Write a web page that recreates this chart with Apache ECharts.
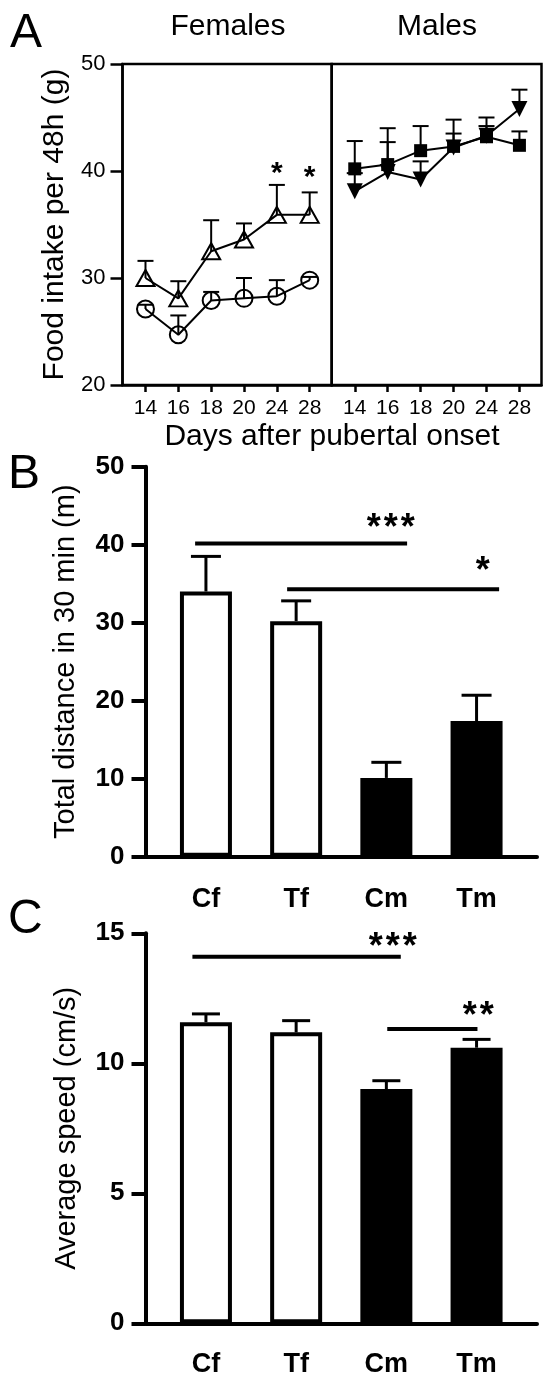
<!DOCTYPE html>
<html>
<head>
<meta charset="utf-8">
<script src="https://cdn.jsdelivr.net/npm/echarts@6/dist/echarts.min.js"></script>
<style>
html, body { margin: 0; padding: 0; background: #fff; }
#main { width: 550px; height: 1380px; }
</style>
</head>
<body>
<div id="main"></div>
<script>
// panel A: food intake per 48h (g), x index 0..5 = day after pubertal onset
var days = ['14', '16', '18', '20', '24', '28'];
var femCircle = [27.1, 24.7, 27.9, 28.1, 28.3, 29.8];
var femCircleTop = [27.5, 26.5, 28.7, 30.0, 29.8, 30.1];
var femTri = [30.0, 28.1, 32.5, 33.6, 35.9, 35.9];
var femTriTop = [31.6, 29.7, 35.4, 35.1, 38.7, 38.0];
var maleSquare = [40.2, 40.6, 41.9, 42.3, 43.2, 42.4];
var maleSquareTop = [42.8, 44.0, 44.2, 44.8, 45.0, 43.7];
var maleTri = [38.1, 39.9, 39.2, 42.2, 43.3, 45.8];
var maleTriTop = [39.8, 42.7, 40.9, 43.5, 44.2, 47.6];
var starsA = [[4, 40.45, '*'], [5, 40.1, '*']];

// panel B (total distance, m) and C (average speed, cm/s)
var groups = ['Cf', 'Tf', 'Cm', 'Tm'];
var distance = [34.0, 30.2, 10.1, 17.4];
var distanceTop = [38.5, 32.8, 12.1, 20.7];
var speed = [11.58, 11.19, 9.01, 10.6];
var speedTop = [11.9, 11.64, 9.33, 10.92];
var sigLinesB = [[-0.12, 2.23, 40.15], [0.90, 3.25, 34.3]];
var sigTextB = [[2.05, 43.2, '*\u200A*\u200A*'], [3.07, 37.6, '*']];
var sigLinesC = [[-0.15, 2.16, 14.1], [2.01, 3.01, 11.32]];
var sigTextC = [[2.07, 14.77, '*\u200A*\u200A*'], [3.02, 12.12, '*\u200A*']];

var fills = ['#fff', '#fff', '#000', '#000'];
var FONT = '"Liberation Sans", Arial, sans-serif';

function pairs(vals) {
    return vals.map(function (v, i) { return [i, v]; });
}
function errData(vals, tops) {
    return vals.map(function (v, i) { return [i, v, tops[i]]; });
}

// vertical error bar from mean up to mean+sem, with cap
function errBar(capHalf, lw) {
    return function (params, api) {
        var p0 = api.coord([api.value(0), api.value(1)]);
        var p1 = api.coord([api.value(0), api.value(2)]);
        return {
            type: 'group',
            children: [
                { type: 'line', shape: { x1: p0[0], y1: p0[1], x2: p1[0], y2: p1[1] }, style: { stroke: '#000', lineWidth: lw } },
                { type: 'line', shape: { x1: p1[0] - capHalf, y1: p1[1], x2: p1[0] + capHalf, y2: p1[1] }, style: { stroke: '#000', lineWidth: lw } }
            ]
        };
    };
}
function sigLine(params, api) {
    var a = api.coord([api.value(0), api.value(2)]);
    var b = api.coord([api.value(1), api.value(2)]);
    return { type: 'line', shape: { x1: a[0], y1: a[1], x2: b[0], y2: b[1] }, style: { stroke: '#000', lineWidth: 4 } };
}
function starText(list, size, weight) {
    return function (params, api) {
        var p = api.coord([api.value(0), api.value(1)]);
        return {
            type: 'text', x: p[0], y: p[1] + size * 0.25,
            style: { text: list[params.dataIndex][2], font: weight + ' ' + size + 'px ' + FONT, fill: '#000', align: 'center', verticalAlign: 'middle' }
        };
    };
}

function dayAxis(grid) {
    return {
        type: 'value', gridIndex: grid, min: -0.7, max: 5.67,
        axisLine: { show: true, onZero: false, lineStyle: { color: '#000', width: 2.5 } },
        axisTick: { show: true, customValues: [0, 1, 2, 3, 4, 5], length: 7, lineStyle: { color: '#000', width: 2.5 } },
        axisLabel: {
            customValues: [0, 1, 2, 3, 4, 5], margin: 13, color: '#000', fontSize: 21, fontFamily: FONT,
            formatter: function (v) { return days[Math.round(v)]; }
        },
        splitLine: { show: false }
    };
}
function groupAxis(grid, margin) {
    return {
        type: 'value', gridIndex: grid, min: -0.67, max: 3.67,
        axisLine: { show: true, onZero: false, lineStyle: { color: '#000', width: 4 } },
        axisTick: { show: false },
        axisLabel: {
            customValues: [0, 1, 2, 3], margin: margin, color: '#000', fontSize: 27, fontWeight: 'bold', fontFamily: FONT,
            formatter: function (v) { return groups[Math.round(v)]; }
        },
        splitLine: { show: false }
    };
}
function barValueAxis(grid, max, step, name, gap) {
    return {
        type: 'value', gridIndex: grid, min: 0, max: max, interval: step,
        name: name, nameLocation: 'middle', nameGap: gap,
        nameTextStyle: { color: '#000', fontSize: 29, fontFamily: FONT },
        axisLine: { show: true, onZero: false, lineStyle: { color: '#000', width: 4 } },
        axisTick: { show: true, length: 14, lineStyle: { color: '#000', width: 4 } },
        axisLabel: { margin: 21, color: '#000', fontSize: 26, fontWeight: 'bold', fontFamily: FONT },
        splitLine: { show: false }
    };
}

var chart = echarts.init(document.getElementById('main'), null, { renderer: 'canvas' });
var boxStyle = { show: true, borderColor: '#000', borderWidth: 2.5, backgroundColor: 'transparent', outerBoundsMode: 'none', containLabel: false };

var option = {
    animation: false,
    backgroundColor: '#fff',
    textStyle: { fontFamily: FONT },
    grid: [
        Object.assign({ left: 122.5, top: 64, width: 209.2, height: 321 }, boxStyle),
        Object.assign({ left: 331.7, top: 64, width: 209.8, height: 321 }, boxStyle),
        { left: 145.5, top: 466.7, width: 391.5, height: 390, outerBoundsMode: 'none', containLabel: false },
        { left: 145.5, top: 933.3, width: 391.5, height: 390, outerBoundsMode: 'none', containLabel: false }
    ],
    xAxis: [dayAxis(0), dayAxis(1), groupAxis(2, 29), groupAxis(3, 28)],
    yAxis: [
        {
            type: 'value', gridIndex: 0, min: 20, max: 50, interval: 10,
            name: 'Food intake per 48h (g)', nameLocation: 'middle', nameGap: 53,
            nameTextStyle: { color: '#000', fontSize: 30, fontFamily: FONT },
            axisLine: { show: true, onZero: false, lineStyle: { color: '#000', width: 2.5 } },
            axisTick: { show: true, length: 12, lineStyle: { color: '#000', width: 2.5 } },
            axisLabel: { margin: 17, color: '#000', fontSize: 22, fontFamily: FONT },
            splitLine: { show: false }
        },
        { type: 'value', gridIndex: 1, min: 20, max: 50, show: false, axisLine: { onZero: false }, splitLine: { show: false } },
        barValueAxis(2, 50, 10, 'Total distance in 30 min (m)', 65),
        barValueAxis(3, 15, 5, 'Average speed (cm/s)', 64)
    ],
    graphic: [
        { type: 'text', left: 10, top: 10, style: { text: 'A', font: '48px ' + FONT, fill: '#000' } },
        { type: 'text', left: 8, top: 451, style: { text: 'B', font: '48px ' + FONT, fill: '#000' } },
        { type: 'text', left: 8, top: 896, style: { text: 'C', font: '48px ' + FONT, fill: '#000' } },
        { type: 'text', x: 228, y: 27, style: { text: 'Females', font: '30px ' + FONT, fill: '#000', align: 'center', verticalAlign: 'middle' } },
        { type: 'text', x: 437, y: 27, style: { text: 'Males', font: '30px ' + FONT, fill: '#000', align: 'center', verticalAlign: 'middle' } },
        { type: 'text', x: 332, y: 437, style: { text: 'Days after pubertal onset', font: '30px ' + FONT, fill: '#000', align: 'center', verticalAlign: 'middle' } }
    ],
    series: [
        // panel A, females
        { type: 'custom', xAxisIndex: 0, yAxisIndex: 0, renderItem: errBar(8, 2), encode: { x: 0, y: [1, 2] }, data: errData(femCircle, femCircleTop), z: 2 },
        { type: 'custom', xAxisIndex: 0, yAxisIndex: 0, renderItem: errBar(8, 2), encode: { x: 0, y: [1, 2] }, data: errData(femTri, femTriTop), z: 2 },
        {
            type: 'line', xAxisIndex: 0, yAxisIndex: 0, data: pairs(femCircle), symbol: 'circle', symbolSize: 17,
            itemStyle: { color: 'rgba(0,0,0,0)', borderColor: '#000', borderWidth: 2 }, lineStyle: { color: '#000', width: 2 }, z: 3
        },
        {
            type: 'line', xAxisIndex: 0, yAxisIndex: 0, data: pairs(femTri), symbol: 'triangle', symbolSize: [18, 16],
            itemStyle: { color: 'rgba(0,0,0,0)', borderColor: '#000', borderWidth: 2 }, lineStyle: { color: '#000', width: 2 }, z: 3
        },
        { type: 'custom', xAxisIndex: 0, yAxisIndex: 0, renderItem: starText(starsA, 30, 'bold'), encode: { x: 0, y: 1 }, data: starsA.map(function (s) { return [s[0], s[1]]; }), z: 4 },
        // panel A, males
        { type: 'custom', xAxisIndex: 1, yAxisIndex: 1, renderItem: errBar(8, 2), encode: { x: 0, y: [1, 2] }, data: errData(maleSquare, maleSquareTop), z: 2 },
        { type: 'custom', xAxisIndex: 1, yAxisIndex: 1, renderItem: errBar(8, 2), encode: { x: 0, y: [1, 2] }, data: errData(maleTri, maleTriTop), z: 2 },
        {
            type: 'line', xAxisIndex: 1, yAxisIndex: 1, data: pairs(maleSquare), symbol: 'rect', symbolSize: 13,
            itemStyle: { color: '#000' }, lineStyle: { color: '#000', width: 2 }, z: 3
        },
        {
            type: 'line', xAxisIndex: 1, yAxisIndex: 1, data: pairs(maleTri), symbol: 'triangle', symbolRotate: 180, symbolSize: [16, 16],
            itemStyle: { color: '#000' }, lineStyle: { color: '#000', width: 2 }, z: 3
        },
        // panel B
        {
            type: 'bar', xAxisIndex: 2, yAxisIndex: 2, barWidth: 52,
            data: distance.map(function (v, i) { return { value: [i, v], itemStyle: { color: fills[i] } }; }),
            itemStyle: { borderColor: '#000', borderWidth: 4 }, z: 2
        },
        { type: 'custom', xAxisIndex: 2, yAxisIndex: 2, renderItem: errBar(15, 3), encode: { x: 0, y: [1, 2] }, data: errData(distance, distanceTop), z: 3 },
        { type: 'custom', xAxisIndex: 2, yAxisIndex: 2, renderItem: sigLine, encode: { x: [0, 1], y: 2 }, data: sigLinesB, z: 3 },
        { type: 'custom', xAxisIndex: 2, yAxisIndex: 2, renderItem: starText(sigTextB, 36, 'bold'), encode: { x: 0, y: 1 }, data: sigTextB.map(function (s) { return [s[0], s[1]]; }), z: 4 },
        // panel C
        {
            type: 'bar', xAxisIndex: 3, yAxisIndex: 3, barWidth: 52,
            data: speed.map(function (v, i) { return { value: [i, v], itemStyle: { color: fills[i] } }; }),
            itemStyle: { borderColor: '#000', borderWidth: 4 }, z: 2
        },
        { type: 'custom', xAxisIndex: 3, yAxisIndex: 3, renderItem: errBar(14, 3), encode: { x: 0, y: [1, 2] }, data: errData(speed, speedTop), z: 3 },
        { type: 'custom', xAxisIndex: 3, yAxisIndex: 3, renderItem: sigLine, encode: { x: [0, 1], y: 2 }, data: sigLinesC, z: 3 },
        { type: 'custom', xAxisIndex: 3, yAxisIndex: 3, renderItem: starText(sigTextC, 36, 'bold'), encode: { x: 0, y: 1 }, data: sigTextC.map(function (s) { return [s[0], s[1]]; }), z: 4 }
    ]
};
chart.setOption(option);
</script>
</body>
</html>
